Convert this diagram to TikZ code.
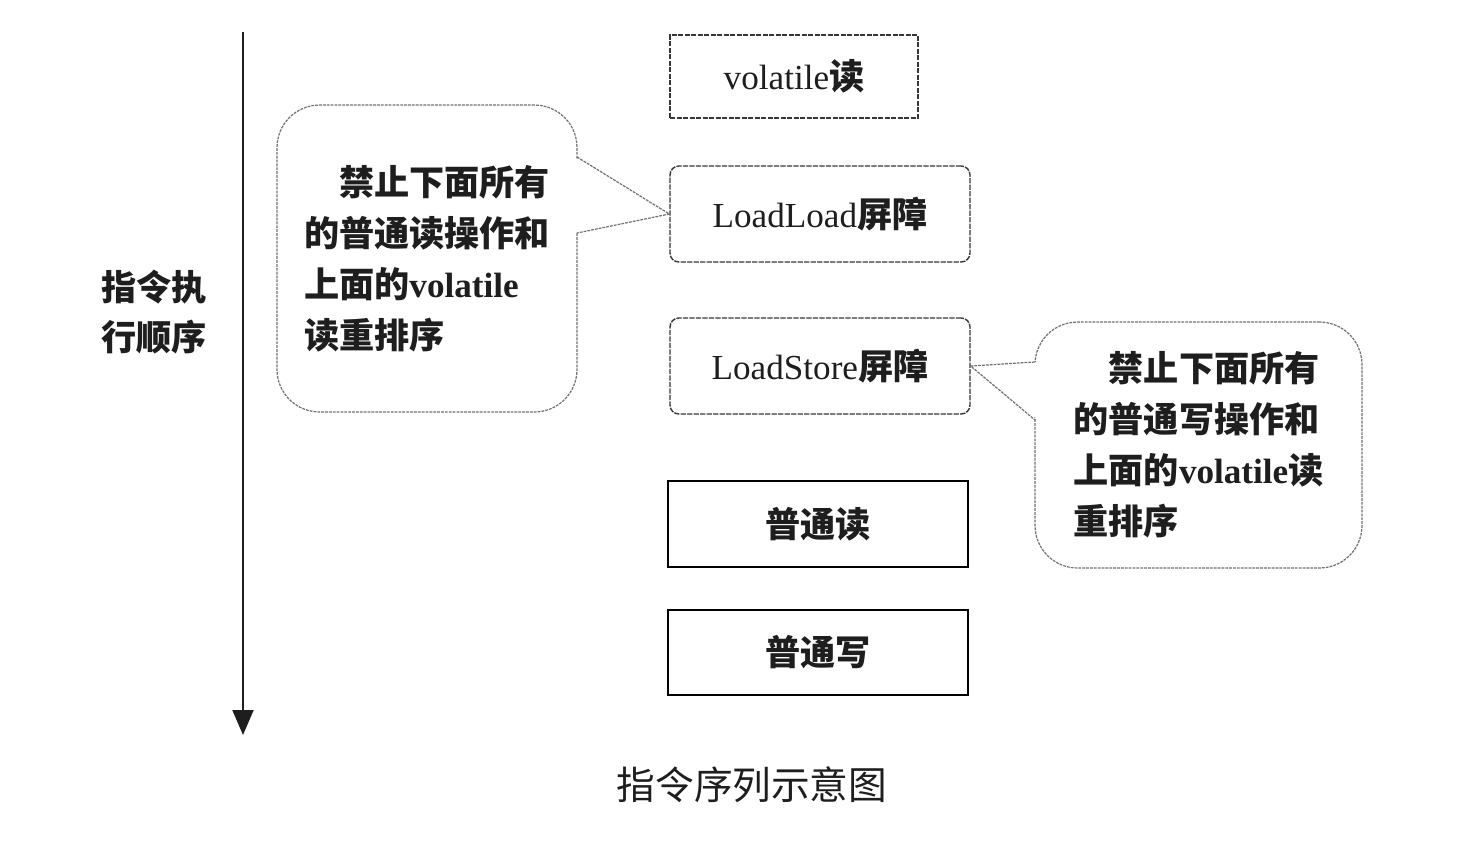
\documentclass[tikz,border=0pt]{standalone}
\usepackage{fontspec}
\setmainfont{Noto Sans CJK SC}
\newfontfamily\timesfont{Liberation Serif}
\usepackage{tikz}
\usetikzlibrary{arrows.meta, positioning, calc}
\definecolor{myink}{RGB}{30,30,30}
\definecolor{myedge}{RGB}{55,55,55}
\definecolor{mygray}{RGB}{115,115,115}
\newcommand{\latr}[1]{{\timesfont\mdseries #1}}
\newcommand{\latb}[1]{{\timesfont\bfseries #1}}
\tikzset{
  insbox/.style={rectangle, draw=myedge, line width=0.8pt,
    dash pattern=on 3pt off 0.7pt, minimum width=6cm, minimum height=1.92cm,
    font=\fontsize{20}{24}\selectfont\bfseries, text=myink, inner sep=0pt},
  barrier/.style={insbox, rounded corners=5pt},
  plainbox/.style={rectangle, draw=black, line width=1.3pt,
    minimum width=6cm, minimum height=1.72cm,
    font=\fontsize{20}{24}\selectfont\bfseries, text=myink, inner sep=0pt},
  callout/.style={rectangle, draw=mygray, line width=0.7pt,
    dash pattern=on 1.6pt off 0.6pt, rounded corners=0.85cm, align=left,
    font=\fontsize{20}{29}\selectfont\bfseries, text=myink, inner sep=0pt},
  pointer/.style={draw=mygray, line width=0.7pt, dash pattern=on 1.6pt off 0.6pt},
  timeline/.style={-{Triangle[width=0.42cm,length=0.5cm]}, line width=1.1pt, color=myink},
  sidelabel/.style={align=center, font=\fontsize{20}{28.5}\selectfont\bfseries, text=myink},
  caption/.style={font=\fontsize{22}{26}\selectfont, text=myink}
}

\begin{document}
\begin{tikzpicture}[x=0.02cm, y=-0.02cm]
  \fill[white] (0,0) rectangle (1464,866);
  \useasboundingbox (0,0) rectangle (1464,866);
  % time axis
  \coordinate (ttop) at (243,32);
  \coordinate (tbot) at (243,735);
  \draw[timeline] (ttop) -- (tbot);
  \node[sidelabel] (order) at (154,312) {指令执\\行顺序};
  % instruction sequence
  \node[insbox, minimum width=4.96cm, minimum height=1.66cm] (vread) at (794,76.5) {\latr{volatile}读};
  \node[barrier] (loadload) at (820,214) {\latr{LoadLoad}屏障};
  \node[barrier] (loadstore) at (820,366) {\latr{LoadStore}屏障};
  \node[plainbox] (nread) at (818,524) {普通读};
  \node[plainbox, minimum height=1.7cm] (nwrite) at (818,652.5) {普通写};
  % callouts
  \node[callout, minimum width=6cm, minimum height=6.14cm] (lcall) at (427,258.5)
    {\hspace*{1em}禁止下面所有\\的普通读操作和\\上面的\latb{volatile}\\读重排序};
  \node[callout, minimum width=6.54cm, minimum height=4.92cm] (rcall) at (1198.5,445)
    {\hspace*{1em}禁止下面所有\\的普通写操作和\\上面的\latb{volatile}读\\重排序};
  \coordinate (lca) at (577,157);
  \coordinate (lcb) at (577,233);
  \coordinate (rca) at (1035,362);
  \coordinate (rcb) at (1035,420);
  \fill[white] ($(lca)+(-2pt,0)$) -- (loadload.west) -- ($(lcb)+(-2pt,0)$) -- cycle;
  \fill[white] ($(rca)+(2pt,0)$) -- (loadstore.east) -- ($(rcb)+(2pt,0)$) -- cycle;
  \draw[pointer] (lca) -- (loadload.west) -- (lcb);
  \draw[pointer] (rca) -- (loadstore.east) -- (rcb);
  \node[caption] (cap) at (752,785) {指令序列示意图};
\end{tikzpicture}
\end{document}
